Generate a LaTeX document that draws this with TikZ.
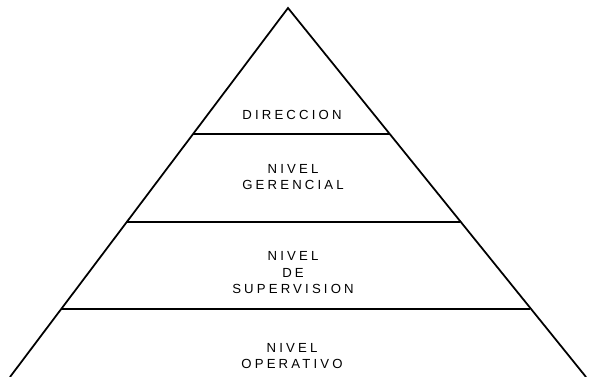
\documentclass[tikz,border=0pt]{standalone}
\usepackage{fontspec}
\setmainfont{Liberation Sans}
\newfontfamily\plotfont[LetterSpace=24]{Liberation Sans}
\usepackage{tikz}
\tikzset{
  pyside/.style={line width=1pt, draw=black, line cap=round, line join=miter},
  pyband/.style={line width=1.3pt, draw=black, line cap=butt},
  pylabel/.style={font=\plotfont\fontsize{7.5}{9.4}\selectfont, inner sep=0pt, align=center},
}

\begin{document}
\begin{tikzpicture}
\useasboundingbox (0,0) rectangle (11.780,7.540);
\draw[pyside] (0.200,0.000) -- (5.760,7.380) -- (11.720,0.000);
\draw[pyband] (3.860,4.860) -- (7.780,4.860);
\draw[pyband] (2.540,3.100) -- (9.200,3.100);
\draw[pyband] (1.220,1.360) -- (10.600,1.360);
\node[pylabel] (direccion) at (5.840,5.240) {DIRECCION};
\node[pylabel] (gerencial) at (5.860,4.000) {NIVEL\\GERENCIAL};
\node[pylabel] (supervision) at (5.860,2.080) {NIVEL\\DE\\SUPERVISION};
\node[pylabel] (operativo) at (5.840,0.420) {NIVEL\\OPERATIVO};
\end{tikzpicture}
\end{document}
